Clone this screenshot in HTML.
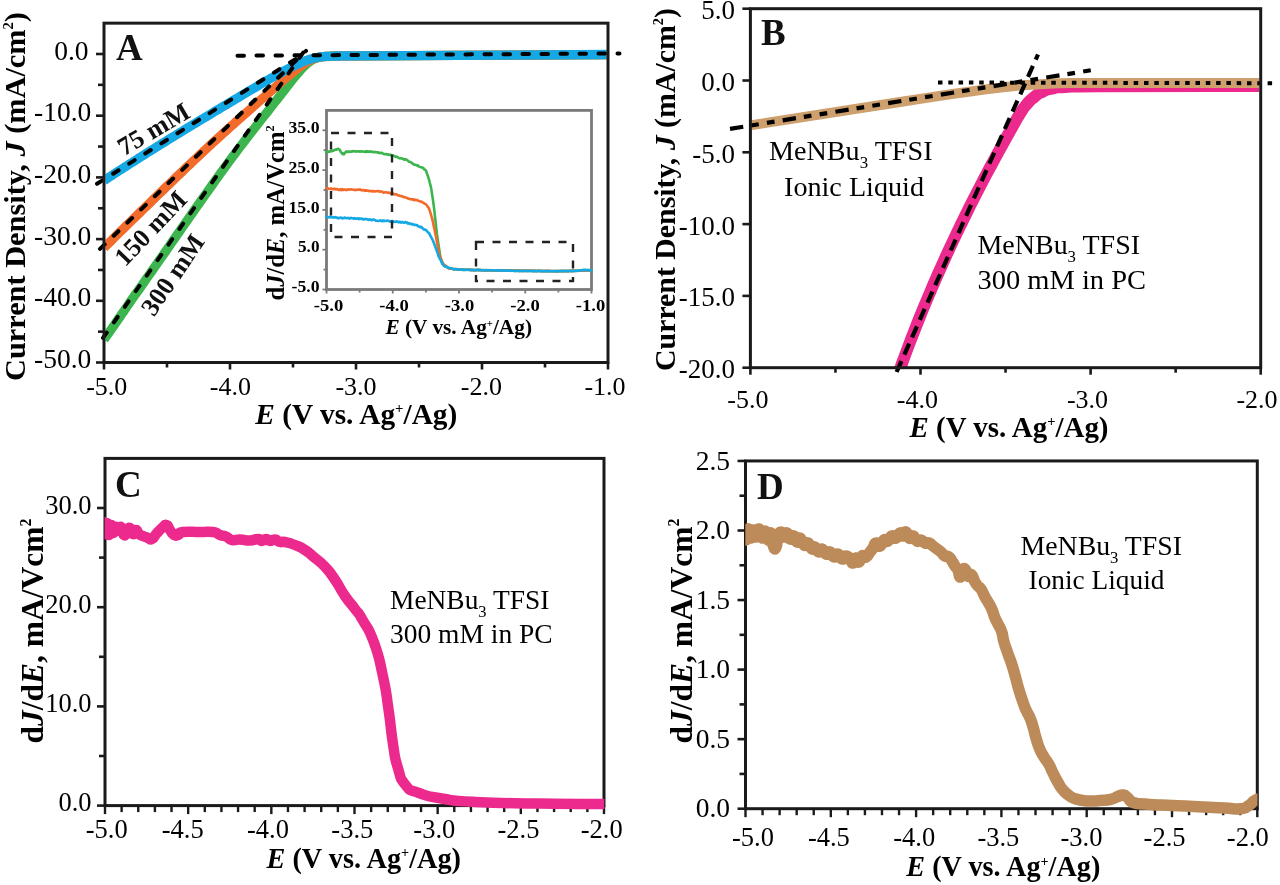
<!DOCTYPE html>
<html><head><meta charset="utf-8"><style>
html,body{margin:0;padding:0;background:#fff;overflow:hidden;}
svg{display:block;font-family:"Liberation Serif", serif;will-change:transform;}
</style></head><body>
<svg width="1280" height="885" viewBox="0 0 1280 885">
<rect width="1280" height="885" fill="#fff"/>
<defs>
<clipPath id="cA"><rect x="105.50" y="23.15" width="501.00" height="339.35"/></clipPath>
<clipPath id="cB"><rect x="751.50" y="8.80" width="507.50" height="359.70"/></clipPath>
<clipPath id="cC"><rect x="104.60" y="458.50" width="499.70" height="361.50"/></clipPath>
<clipPath id="cD"><rect x="745.30" y="461.00" width="512.20" height="364.00"/></clipPath>
</defs>
<g clip-path="url(#cA)">
<path d="M104.0 339.7 L106.5 336.1 L109.0 332.5 L111.6 328.9 L114.1 325.3 L116.6 321.6 L119.1 318.0 L121.6 314.3 L124.2 310.7 L126.7 307.0 L129.2 303.3 L131.7 299.7 L134.2 296.1 L136.8 292.6 L139.3 289.0 L141.8 285.4 L144.3 281.8 L146.8 278.2 L149.4 274.6 L151.9 271.0 L154.4 267.4 L156.9 263.8 L159.4 260.2 L162.0 256.6 L164.5 253.0 L167.0 249.4 L169.5 245.8 L172.0 242.2 L174.6 238.5 L177.1 234.9 L179.6 231.3 L182.1 227.7 L184.6 224.1 L187.2 220.5 L189.7 216.9 L192.2 213.3 L194.7 209.7 L197.2 206.1 L199.8 202.5 L202.3 198.9 L204.8 195.4 L207.3 191.8 L209.9 188.2 L212.4 184.7 L214.9 181.1 L217.4 177.6 L220.0 174.1 L222.5 170.6 L225.1 167.1 L227.6 163.6 L230.2 160.1 L232.8 156.6 L235.3 153.2 L237.9 149.7 L240.5 146.3 L243.2 142.8 L245.8 139.4 L248.4 136.0 L251.0 132.6 L253.7 129.3 L256.3 125.9 L258.9 122.6 L261.5 119.2 L264.1 115.9 L266.7 112.7 L269.3 109.4 L271.8 106.2 L274.3 103.0 L276.8 99.8 L279.3 96.6 L281.8 93.4 L284.2 90.3 L286.6 87.2 L289.1 84.1 L291.5 81.0 L293.9 77.9 L296.3 75.0 L298.8 72.1 L301.2 69.4 L303.6 66.9 L306.1 64.5 L308.5 62.5 L311.0 60.7 L313.5 59.3 L316.0 58.2 L318.5 57.5 L321.0 56.9 L323.5 56.6 L326.1 56.4 L328.6 56.3 L331.1 56.1 L333.6 56.1 L336.1 56.0 L338.6 56.0 L341.2 55.9 L343.7 55.9 L346.2 55.9 L348.7 55.9 L351.2 55.9 L353.8 55.9 L356.3 55.9 L608.0 54.6" fill="none" stroke="#3db54e" stroke-width="9.3" stroke-linejoin="round" stroke-linecap="butt" />
<path d="M104.0 247.7 L106.5 245.2 L109.0 242.8 L111.6 240.3 L114.1 237.8 L116.6 235.3 L119.1 232.8 L121.6 230.4 L124.2 227.9 L126.7 225.4 L129.2 223.0 L131.7 220.5 L134.2 218.1 L136.8 215.6 L139.3 213.1 L141.8 210.7 L144.3 208.2 L146.8 205.8 L149.4 203.3 L151.9 200.9 L154.4 198.4 L156.9 196.0 L159.4 193.5 L162.0 191.1 L164.5 188.6 L167.0 186.2 L169.5 183.8 L172.1 181.3 L174.6 178.9 L177.1 176.4 L179.7 174.0 L182.2 171.6 L184.7 169.2 L187.3 166.7 L189.8 164.3 L192.4 161.9 L194.9 159.5 L197.5 157.1 L200.0 154.7 L202.6 152.3 L205.2 149.9 L207.7 147.5 L210.3 145.1 L212.9 142.7 L215.5 140.3 L218.1 138.0 L220.7 135.6 L223.3 133.2 L225.9 130.9 L228.5 128.6 L231.1 126.2 L233.7 123.9 L236.3 121.6 L238.9 119.3 L241.4 117.0 L244.0 114.7 L246.6 112.4 L249.1 110.2 L251.7 108.0 L254.2 105.7 L256.7 103.5 L259.2 101.3 L261.7 99.1 L264.2 97.0 L266.7 94.8 L269.1 92.6 L271.6 90.5 L274.1 88.3 L276.5 86.2 L279.0 84.1 L281.4 81.9 L283.9 79.8 L286.3 77.8 L288.8 75.7 L291.2 73.6 L293.7 71.6 L296.2 69.6 L298.6 67.7 L301.1 65.9 L303.6 64.1 L306.0 62.5 L308.5 61.1 L311.0 59.9 L313.5 58.8 L316.0 58.0 L318.5 57.4 L321.0 57.0 L323.5 56.7 L326.1 56.5 L328.6 56.3 L331.1 56.2 L333.6 56.1 L336.1 56.0 L338.6 56.0 L341.2 55.9 L343.7 55.9 L346.2 55.9 L348.7 55.9 L351.2 55.9 L353.8 55.9 L356.3 55.9 L608.0 54.6" fill="none" stroke="#f26b2a" stroke-width="9.3" stroke-linejoin="round" stroke-linecap="butt" />
<path d="M104.0 180.5 L106.6 178.8 L109.1 177.2 L111.6 175.6 L114.1 173.9 L116.7 172.3 L119.2 170.7 L121.7 169.1 L124.3 167.4 L126.8 165.8 L129.3 164.2 L131.9 162.6 L134.4 161.0 L137.0 159.4 L139.5 157.7 L142.0 156.1 L144.6 154.5 L147.1 152.9 L149.7 151.3 L152.3 149.7 L154.8 148.1 L157.4 146.5 L159.9 144.9 L162.5 143.3 L165.1 141.7 L167.6 140.1 L170.2 138.5 L172.8 137.0 L175.4 135.4 L177.9 133.8 L180.5 132.2 L183.1 130.7 L185.6 129.1 L188.2 127.5 L190.8 126.0 L193.4 124.4 L195.9 122.9 L198.5 121.3 L201.0 119.8 L203.6 118.3 L206.2 116.7 L208.7 115.2 L211.3 113.7 L213.8 112.1 L216.3 110.6 L218.9 109.1 L221.4 107.6 L223.9 106.1 L226.5 104.6 L229.0 103.1 L231.5 101.6 L234.0 100.0 L236.5 98.5 L239.0 97.1 L241.5 95.6 L244.0 94.1 L246.5 92.6 L249.0 91.1 L251.4 89.6 L253.9 88.2 L256.4 86.7 L258.9 85.2 L261.3 83.8 L263.8 82.3 L266.3 80.9 L268.8 79.5 L271.2 78.1 L273.7 76.7 L276.2 75.3 L278.6 73.9 L281.1 72.5 L283.6 71.2 L286.1 69.9 L288.6 68.6 L291.0 67.3 L293.5 66.1 L296.0 64.9 L298.5 63.7 L301.0 62.6 L303.5 61.5 L306.0 60.5 L308.5 59.7 L311.0 58.9 L313.5 58.2 L316.0 57.7 L318.5 57.2 L321.0 56.9 L323.5 56.6 L326.1 56.4 L328.6 56.3 L331.1 56.2 L333.6 56.1 L336.1 56.0 L338.6 56.0 L341.2 55.9 L343.7 55.9 L346.2 55.9 L348.7 55.9 L351.2 55.9 L353.8 55.9 L356.3 55.9 L608.0 54.5" fill="none" stroke="#14a8e4" stroke-width="9.3" stroke-linejoin="round" stroke-linecap="butt" />
</g>
<line x1="97.00" y1="183.81" x2="305.00" y2="53.19" stroke="#000" stroke-width="4" stroke-dasharray="6.5 12.5" stroke-linecap="round"/>
<line x1="100.00" y1="248.86" x2="306.00" y2="50.90" stroke="#000" stroke-width="4" stroke-dasharray="6.5 12.5" stroke-linecap="round"/>
<line x1="103.00" y1="337.85" x2="309.70" y2="43.30" stroke="#000" stroke-width="4" stroke-dasharray="6.5 12.5" stroke-linecap="round"/>
<line x1="237.50" y1="55.70" x2="619.50" y2="53.50" stroke="#000" stroke-width="4" stroke-dasharray="6.5 12.5" stroke-linecap="round"/>
<text transform="translate(124.00,156.40) rotate(-30.4)" x="0" y="0" font-size="26" font-weight="bold" fill="#111">75 mM</text>
<text transform="translate(125.20,267.50) rotate(-46.4)" x="0" y="0" font-size="26" font-weight="bold" fill="#111">150 mM</text>
<text transform="translate(154.00,317.50) rotate(-55.7)" x="0" y="0" font-size="26" font-weight="bold" fill="#111">300 mM</text>
<text x="116.00" y="59.50" font-size="37" font-weight="bold" fill="#111">A</text>
<rect x="104.00" y="23.15" width="504.00" height="339.35" fill="none" stroke="#1a1a1a" stroke-width="3"/>
<line x1="96.00" y1="54.00" x2="104.00" y2="54.00" stroke="#1a1a1a" stroke-width="2.6" />
<line x1="98.00" y1="84.85" x2="104.00" y2="84.85" stroke="#1a1a1a" stroke-width="2.6" />
<line x1="96.00" y1="115.70" x2="104.00" y2="115.70" stroke="#1a1a1a" stroke-width="2.6" />
<line x1="98.00" y1="146.55" x2="104.00" y2="146.55" stroke="#1a1a1a" stroke-width="2.6" />
<line x1="96.00" y1="177.40" x2="104.00" y2="177.40" stroke="#1a1a1a" stroke-width="2.6" />
<line x1="98.00" y1="208.25" x2="104.00" y2="208.25" stroke="#1a1a1a" stroke-width="2.6" />
<line x1="96.00" y1="239.10" x2="104.00" y2="239.10" stroke="#1a1a1a" stroke-width="2.6" />
<line x1="98.00" y1="269.95" x2="104.00" y2="269.95" stroke="#1a1a1a" stroke-width="2.6" />
<line x1="96.00" y1="300.80" x2="104.00" y2="300.80" stroke="#1a1a1a" stroke-width="2.6" />
<line x1="98.00" y1="331.65" x2="104.00" y2="331.65" stroke="#1a1a1a" stroke-width="2.6" />
<line x1="96.00" y1="362.50" x2="104.00" y2="362.50" stroke="#1a1a1a" stroke-width="2.6" />
<line x1="104.00" y1="362.50" x2="104.00" y2="369.50" stroke="#1a1a1a" stroke-width="2.6" />
<line x1="167.00" y1="362.50" x2="167.00" y2="367.50" stroke="#1a1a1a" stroke-width="2.6" />
<line x1="230.00" y1="362.50" x2="230.00" y2="369.50" stroke="#1a1a1a" stroke-width="2.6" />
<line x1="293.00" y1="362.50" x2="293.00" y2="367.50" stroke="#1a1a1a" stroke-width="2.6" />
<line x1="356.00" y1="362.50" x2="356.00" y2="369.50" stroke="#1a1a1a" stroke-width="2.6" />
<line x1="419.00" y1="362.50" x2="419.00" y2="367.50" stroke="#1a1a1a" stroke-width="2.6" />
<line x1="482.00" y1="362.50" x2="482.00" y2="369.50" stroke="#1a1a1a" stroke-width="2.6" />
<line x1="545.00" y1="362.50" x2="545.00" y2="367.50" stroke="#1a1a1a" stroke-width="2.6" />
<line x1="608.00" y1="362.50" x2="608.00" y2="369.50" stroke="#1a1a1a" stroke-width="2.6" />
<text x="88.50" y="59.50" font-size="27.5" text-anchor="end">0.0</text>
<text x="91.30" y="121.20" font-size="27.5" text-anchor="end">-10.0</text>
<text x="91.30" y="182.90" font-size="27.5" text-anchor="end">-20.0</text>
<text x="91.30" y="244.60" font-size="27.5" text-anchor="end">-30.0</text>
<text x="91.30" y="306.30" font-size="27.5" text-anchor="end">-40.0</text>
<text x="91.30" y="368.00" font-size="27.5" text-anchor="end">-50.0</text>
<text x="106.80" y="395.00" font-size="26" text-anchor="middle">-5.0</text>
<text x="230.40" y="395.00" font-size="26" text-anchor="middle">-4.0</text>
<text x="356.00" y="395.00" font-size="26" text-anchor="middle">-3.0</text>
<text x="481.40" y="395.00" font-size="26" text-anchor="middle">-2.0</text>
<text x="605.00" y="395.00" font-size="26" text-anchor="middle">-1.0</text>
<text x="255.30" y="424.00" font-size="29.5" font-weight="bold" textLength="202.00" lengthAdjust="spacingAndGlyphs"><tspan font-style="italic">E</tspan> (V vs. Ag<tspan dy="-10.6" font-size="14.8">+</tspan><tspan dy="10.6">/Ag)</tspan></text>
<text transform="translate(25.20,381.00) rotate(-90)" x="0" y="0" font-size="30" font-weight="bold" textLength="369.00" lengthAdjust="spacingAndGlyphs">Current Density, <tspan font-style="italic">J</tspan> (mA/cm<tspan dy="-12.0" font-size="14.4">2</tspan><tspan dy="12.0">)</tspan></text>
<rect x="326.50" y="110.40" width="265.00" height="179.10" fill="#fff" stroke="#7a7a7a" stroke-width="2.8"/>
<line x1="322.50" y1="289.50" x2="326.50" y2="289.50" stroke="#7a7a7a" stroke-width="1.8" />
<line x1="323.50" y1="269.60" x2="326.50" y2="269.60" stroke="#7a7a7a" stroke-width="1.8" />
<line x1="322.50" y1="249.70" x2="326.50" y2="249.70" stroke="#7a7a7a" stroke-width="1.8" />
<line x1="323.50" y1="229.80" x2="326.50" y2="229.80" stroke="#7a7a7a" stroke-width="1.8" />
<line x1="322.50" y1="209.90" x2="326.50" y2="209.90" stroke="#7a7a7a" stroke-width="1.8" />
<line x1="323.50" y1="190.00" x2="326.50" y2="190.00" stroke="#7a7a7a" stroke-width="1.8" />
<line x1="322.50" y1="170.10" x2="326.50" y2="170.10" stroke="#7a7a7a" stroke-width="1.8" />
<line x1="323.50" y1="150.20" x2="326.50" y2="150.20" stroke="#7a7a7a" stroke-width="1.8" />
<line x1="322.50" y1="130.30" x2="326.50" y2="130.30" stroke="#7a7a7a" stroke-width="1.8" />
<line x1="326.50" y1="289.50" x2="326.50" y2="293.50" stroke="#7a7a7a" stroke-width="1.8" />
<line x1="359.62" y1="289.50" x2="359.62" y2="292.50" stroke="#7a7a7a" stroke-width="1.8" />
<line x1="392.75" y1="289.50" x2="392.75" y2="293.50" stroke="#7a7a7a" stroke-width="1.8" />
<line x1="425.88" y1="289.50" x2="425.88" y2="292.50" stroke="#7a7a7a" stroke-width="1.8" />
<line x1="459.00" y1="289.50" x2="459.00" y2="293.50" stroke="#7a7a7a" stroke-width="1.8" />
<line x1="492.12" y1="289.50" x2="492.12" y2="292.50" stroke="#7a7a7a" stroke-width="1.8" />
<line x1="525.25" y1="289.50" x2="525.25" y2="293.50" stroke="#7a7a7a" stroke-width="1.8" />
<line x1="558.38" y1="289.50" x2="558.38" y2="292.50" stroke="#7a7a7a" stroke-width="1.8" />
<line x1="591.50" y1="289.50" x2="591.50" y2="293.50" stroke="#7a7a7a" stroke-width="1.8" />
<text x="319.50" y="132.90" font-size="17.5" font-weight="bold" text-anchor="end" textLength="31.00" lengthAdjust="spacingAndGlyphs">35.0</text>
<text x="319.50" y="172.70" font-size="17.5" font-weight="bold" text-anchor="end" textLength="31.00" lengthAdjust="spacingAndGlyphs">25.0</text>
<text x="319.50" y="212.50" font-size="17.5" font-weight="bold" text-anchor="end" textLength="31.00" lengthAdjust="spacingAndGlyphs">15.0</text>
<text x="319.50" y="252.30" font-size="17.5" font-weight="bold" text-anchor="end" textLength="21.50" lengthAdjust="spacingAndGlyphs">5.0</text>
<text x="319.50" y="292.10" font-size="17.5" font-weight="bold" text-anchor="end" textLength="28.00" lengthAdjust="spacingAndGlyphs">-5.0</text>
<text x="328.50" y="311.00" font-size="17" font-weight="bold" text-anchor="middle" textLength="29.50" lengthAdjust="spacingAndGlyphs">-5.0</text>
<text x="394.00" y="311.00" font-size="17" font-weight="bold" text-anchor="middle" textLength="29.50" lengthAdjust="spacingAndGlyphs">-4.0</text>
<text x="459.50" y="311.00" font-size="17" font-weight="bold" text-anchor="middle" textLength="29.50" lengthAdjust="spacingAndGlyphs">-3.0</text>
<text x="525.00" y="311.00" font-size="17" font-weight="bold" text-anchor="middle" textLength="29.50" lengthAdjust="spacingAndGlyphs">-2.0</text>
<text x="590.50" y="311.00" font-size="17" font-weight="bold" text-anchor="middle" textLength="29.50" lengthAdjust="spacingAndGlyphs">-1.0</text>
<text x="385.50" y="334.40" font-size="20" font-weight="bold" textLength="146.50" lengthAdjust="spacingAndGlyphs"><tspan font-style="italic">E</tspan> (V vs. Ag<tspan dy="-7.2" font-size="10.0">+</tspan><tspan dy="7.2">/Ag)</tspan></text>
<text transform="translate(284.00,300.50) rotate(-90)" x="0" y="0" font-size="24.5" font-weight="bold" textLength="175.00" lengthAdjust="spacingAndGlyphs">d<tspan font-style="italic">J</tspan>/d<tspan font-style="italic">E</tspan>, mA/Vcm<tspan dy="-9.8" font-size="12.2">2</tspan></text>
<path d="M326.5 152.0 L327.3 151.7 L328.1 152.1 L328.9 151.3 L329.7 151.7 L330.5 151.3 L331.3 150.9 L332.1 151.2 L332.9 150.6 L333.7 150.7 L334.4 149.9 L335.2 149.6 L336.0 149.5 L336.8 149.7 L337.6 148.9 L338.4 148.9 L339.2 149.2 L340.0 150.2 L340.8 151.9 L341.6 152.8 L342.4 153.9 L343.2 153.4 L344.0 154.3 L344.8 153.0 L345.6 152.2 L346.4 151.4 L347.2 151.6 L348.0 152.1 L348.8 151.4 L349.6 151.8 L350.3 151.8 L351.1 151.5 L351.9 151.7 L352.7 151.2 L353.5 151.1 L354.3 151.3 L355.1 151.7 L355.9 151.4 L356.7 151.3 L357.5 151.5 L358.3 151.4 L359.1 151.2 L359.9 151.7 L360.7 151.6 L361.5 151.2 L362.3 151.5 L363.1 151.5 L363.9 151.9 L364.7 151.8 L365.5 151.4 L366.2 152.1 L367.0 151.2 L367.8 151.6 L368.6 151.9 L369.4 151.3 L370.2 151.7 L371.0 151.3 L371.8 151.9 L372.6 152.0 L373.4 151.9 L374.2 152.3 L375.0 151.9 L375.8 152.3 L376.6 152.3 L377.4 152.4 L378.2 152.4 L379.0 152.9 L379.8 153.1 L380.6 152.8 L381.4 153.2 L382.1 152.8 L382.9 153.6 L383.7 153.8 L384.5 154.3 L385.3 154.3 L386.1 154.0 L386.9 154.3 L387.7 154.7 L388.5 154.3 L389.3 154.9 L390.1 154.8 L390.9 154.9 L391.7 155.1 L392.5 156.0 L393.3 155.6 L394.1 155.9 L394.9 156.3 L395.7 157.0 L396.5 156.5 L397.3 157.1 L398.0 157.4 L398.8 158.0 L399.6 158.2 L400.4 158.4 L401.2 158.1 L402.0 158.5 L402.8 158.7 L403.6 159.4 L404.4 159.7 L405.2 159.2 L406.0 159.4 L406.8 160.0 L407.6 160.4 L408.4 161.2 L409.2 161.8 L410.0 161.9 L410.8 162.1 L411.6 163.0 L412.4 163.4 L413.2 164.0 L413.9 164.7 L414.7 164.7 L415.5 164.8 L416.3 165.2 L417.1 165.6 L417.9 165.3 L418.7 166.5 L419.5 166.7 L420.3 167.1 L421.1 167.4 L421.9 167.3 L422.7 167.7 L423.5 168.2 L424.3 169.5 L425.1 169.7 L425.9 170.5 L426.7 172.9 L427.5 175.0 L428.3 177.3 L429.1 179.8 L429.8 182.8 L430.6 185.8 L431.4 189.6 L432.2 195.1 L433.0 200.3 L433.8 206.1 L434.6 213.1 L435.4 220.1 L436.2 227.3 L437.0 234.5 L437.8 240.1 L438.6 245.2 L439.4 250.8 L440.2 256.2 L441.0 258.9 L441.8 260.8 L442.6 262.5 L443.4 264.5 L444.2 265.8 L445.0 266.1 L445.7 266.8 L446.5 266.9 L447.3 267.3 L448.1 268.1 L448.9 268.4 L449.7 268.3 L450.5 268.6 L451.3 268.4 L452.1 268.8 L452.9 269.1 L453.7 269.1 L454.5 269.2 L455.3 269.0 L456.1 269.2 L456.9 269.2 L457.7 269.6 L458.5 269.6 L459.3 269.7 L460.1 269.5 L460.9 269.5 L461.6 269.8 L462.4 269.9 L463.2 269.9 L464.0 269.9 L464.8 269.9 L465.6 269.9 L466.4 269.6 L467.2 269.8 L468.0 269.7 L468.8 269.6 L469.6 269.6 L470.4 269.8 L471.2 269.8 L472.0 270.0 L472.8 270.2 L473.6 269.9 L474.4 270.2 L475.2 270.2 L476.0 270.2 L476.8 270.0 L477.5 269.9 L478.3 269.9 L479.1 269.9 L479.9 270.0 L480.7 270.2 L481.5 270.3 L482.3 270.3 L483.1 270.2 L483.9 270.3 L484.7 270.4 L485.5 270.0 L486.3 270.3 L487.1 270.5 L487.9 270.4 L488.7 270.4 L489.5 270.3 L490.3 270.2 L491.1 270.5 L491.9 270.3 L492.7 270.6 L493.4 270.6 L494.2 270.4 L495.0 270.4 L495.8 270.7 L496.6 270.6 L497.4 270.3 L498.2 270.3 L499.0 270.3 L499.8 270.7 L500.6 270.7 L501.4 270.3 L502.2 270.7 L503.0 270.8 L503.8 270.6 L504.6 270.5 L505.4 270.6 L506.2 270.4 L507.0 270.3 L507.8 270.8 L508.6 270.7 L509.3 270.6 L510.1 270.8 L510.9 270.6 L511.7 270.8 L512.5 270.8 L513.3 270.5 L514.1 270.5 L514.9 270.6 L515.7 270.5 L516.5 270.7 L517.3 270.6 L518.1 270.7 L518.9 270.5 L519.7 270.9 L520.5 270.7 L521.3 270.7 L522.1 270.8 L522.9 271.0 L523.7 270.7 L524.5 271.0 L525.2 270.8 L526.0 270.8 L526.8 270.8 L527.6 270.6 L528.4 270.8 L529.2 270.7 L530.0 270.6 L530.8 271.0 L531.6 270.7 L532.4 270.9 L533.2 271.0 L534.0 270.9 L534.8 270.8 L535.6 270.9 L536.4 271.0 L537.2 271.1 L538.0 270.7 L538.8 271.0 L539.6 270.8 L540.4 270.9 L541.1 271.1 L541.9 271.0 L542.7 271.0 L543.5 271.1 L544.3 271.2 L545.1 271.0 L545.9 271.1 L546.7 271.1 L547.5 271.1 L548.3 271.2 L549.1 271.1 L549.9 271.1 L550.7 271.1 L551.5 271.3 L552.3 271.2 L553.1 271.3 L553.9 271.4 L554.7 271.0 L555.5 271.2 L556.3 271.4 L557.0 271.3 L557.8 271.0 L558.6 271.0 L559.4 271.1 L560.2 270.9 L561.0 271.0 L561.8 270.9 L562.6 271.2 L563.4 271.2 L564.2 271.3 L565.0 270.9 L565.8 271.2 L566.6 271.1 L567.4 270.8 L568.2 271.2 L569.0 271.2 L569.8 270.8 L570.6 271.2 L571.4 270.9 L572.2 270.9 L572.9 271.1 L573.7 271.1 L574.5 270.7 L575.3 270.8 L576.1 270.8 L576.9 270.7 L577.7 270.7 L578.5 270.7 L579.3 270.8 L580.1 270.3 L580.9 270.5 L581.7 270.4 L582.5 270.0 L583.3 270.1 L584.1 270.2 L584.9 270.0 L585.7 269.8 L586.5 270.3 L587.3 270.3 L588.1 270.4 L588.8 270.0 L589.6 270.2 L590.4 270.1 L591.2 270.5 L591.5 270.4" fill="none" stroke="#3db54e" stroke-width="2.6" stroke-linejoin="round" stroke-linecap="round" />
<path d="M326.5 188.2 L327.3 188.1 L328.1 188.5 L328.9 189.0 L329.7 189.0 L330.5 188.5 L331.3 188.5 L332.1 189.3 L332.9 189.1 L333.7 189.3 L334.4 188.7 L335.2 188.8 L336.0 189.5 L336.8 189.3 L337.6 189.0 L338.4 189.9 L339.2 189.7 L340.0 189.9 L340.8 189.2 L341.6 190.0 L342.4 189.2 L343.2 190.0 L344.0 189.6 L344.8 189.5 L345.6 189.8 L346.4 190.2 L347.2 189.5 L348.0 189.4 L348.8 189.8 L349.6 189.5 L350.3 189.4 L351.1 189.5 L351.9 189.4 L352.7 189.6 L353.5 189.7 L354.3 189.7 L355.1 190.2 L355.9 189.7 L356.7 189.9 L357.5 189.6 L358.3 189.8 L359.1 189.5 L359.9 189.8 L360.7 189.6 L361.5 190.4 L362.3 190.3 L363.1 190.0 L363.9 190.3 L364.7 190.8 L365.5 190.1 L366.2 190.8 L367.0 190.5 L367.8 190.7 L368.6 191.1 L369.4 190.7 L370.2 190.9 L371.0 191.1 L371.8 191.5 L372.6 190.9 L373.4 191.4 L374.2 191.4 L375.0 191.4 L375.8 191.2 L376.6 191.2 L377.4 191.0 L378.2 191.1 L379.0 191.1 L379.8 191.9 L380.6 191.5 L381.4 191.5 L382.1 191.6 L382.9 192.5 L383.7 192.6 L384.5 192.5 L385.3 192.2 L386.1 192.3 L386.9 192.5 L387.7 192.8 L388.5 192.6 L389.3 193.0 L390.1 192.9 L390.9 193.8 L391.7 193.9 L392.5 193.6 L393.3 193.5 L394.1 194.5 L394.9 194.1 L395.7 194.4 L396.5 194.3 L397.3 195.0 L398.0 195.3 L398.8 195.6 L399.6 195.6 L400.4 196.1 L401.2 195.9 L402.0 196.4 L402.8 196.5 L403.6 197.1 L404.4 197.0 L405.2 197.2 L406.0 197.8 L406.8 197.9 L407.6 198.4 L408.4 198.5 L409.2 198.9 L410.0 199.0 L410.8 199.2 L411.6 199.5 L412.4 199.2 L413.2 199.3 L413.9 200.1 L414.7 199.4 L415.5 200.2 L416.3 200.3 L417.1 199.8 L417.9 200.8 L418.7 201.0 L419.5 201.0 L420.3 201.5 L421.1 201.9 L421.9 201.7 L422.7 202.4 L423.5 202.8 L424.3 203.5 L425.1 203.9 L425.9 204.3 L426.7 205.1 L427.5 206.4 L428.3 207.5 L429.1 208.6 L429.8 210.8 L430.6 213.4 L431.4 216.1 L432.2 218.9 L433.0 222.2 L433.8 226.4 L434.6 230.1 L435.4 233.9 L436.2 238.0 L437.0 242.3 L437.8 246.5 L438.6 250.6 L439.4 254.6 L440.2 257.0 L441.0 259.3 L441.8 261.7 L442.6 263.8 L443.4 264.1 L444.2 265.0 L445.0 265.3 L445.7 265.8 L446.5 266.5 L447.3 267.3 L448.1 267.6 L448.9 268.4 L449.7 268.7 L450.5 268.6 L451.3 268.6 L452.1 268.8 L452.9 269.0 L453.7 269.1 L454.5 269.1 L455.3 269.2 L456.1 269.0 L456.9 269.2 L457.7 269.3 L458.5 269.7 L459.3 269.5 L460.1 269.7 L460.9 269.4 L461.6 269.4 L462.4 269.6 L463.2 269.8 L464.0 269.8 L464.8 269.8 L465.6 269.7 L466.4 269.8 L467.2 269.8 L468.0 269.8 L468.8 269.6 L469.6 270.1 L470.4 269.7 L471.2 270.1 L472.0 270.1 L472.8 269.7 L473.6 269.9 L474.4 270.1 L475.2 270.2 L476.0 270.0 L476.8 269.9 L477.5 269.9 L478.3 270.3 L479.1 269.9 L479.9 270.1 L480.7 269.9 L481.5 270.2 L482.3 270.4 L483.1 270.0 L483.9 270.4 L484.7 270.2 L485.5 270.4 L486.3 270.4 L487.1 270.1 L487.9 270.5 L488.7 270.3 L489.5 270.1 L490.3 270.1 L491.1 270.4 L491.9 270.4 L492.7 270.3 L493.4 270.2 L494.2 270.3 L495.0 270.3 L495.8 270.6 L496.6 270.2 L497.4 270.6 L498.2 270.6 L499.0 270.3 L499.8 270.7 L500.6 270.6 L501.4 270.7 L502.2 270.4 L503.0 270.5 L503.8 270.5 L504.6 270.8 L505.4 270.6 L506.2 270.5 L507.0 270.5 L507.8 270.5 L508.6 270.4 L509.3 270.4 L510.1 270.8 L510.9 270.5 L511.7 270.8 L512.5 270.5 L513.3 270.5 L514.1 270.7 L514.9 270.5 L515.7 270.6 L516.5 270.9 L517.3 270.9 L518.1 270.9 L518.9 270.8 L519.7 270.9 L520.5 271.0 L521.3 270.8 L522.1 270.9 L522.9 270.5 L523.7 270.9 L524.5 270.8 L525.2 270.9 L526.0 270.9 L526.8 270.7 L527.6 270.6 L528.4 271.0 L529.2 270.7 L530.0 270.8 L530.8 270.8 L531.6 270.8 L532.4 271.0 L533.2 271.1 L534.0 270.8 L534.8 271.0 L535.6 270.8 L536.4 271.0 L537.2 270.9 L538.0 270.8 L538.8 270.8 L539.6 270.8 L540.4 271.2 L541.1 271.0 L541.9 270.9 L542.7 271.2 L543.5 271.3 L544.3 271.0 L545.1 270.9 L545.9 270.9 L546.7 270.8 L547.5 271.0 L548.3 270.9 L549.1 271.0 L549.9 271.0 L550.7 271.1 L551.5 271.3 L552.3 271.2 L553.1 271.1 L553.9 271.1 L554.7 271.2 L555.5 271.1 L556.3 271.1 L557.0 271.0 L557.8 271.1 L558.6 271.4 L559.4 271.0 L560.2 271.1 L561.0 271.2 L561.8 271.3 L562.6 270.9 L563.4 271.0 L564.2 270.9 L565.0 271.0 L565.8 271.0 L566.6 271.2 L567.4 271.1 L568.2 271.1 L569.0 270.7 L569.8 270.7 L570.6 271.0 L571.4 271.1 L572.2 270.8 L572.9 270.9 L573.7 270.6 L574.5 270.7 L575.3 271.0 L576.1 270.9 L576.9 270.9 L577.7 271.0 L578.5 270.6 L579.3 270.5 L580.1 270.5 L580.9 270.7 L581.7 270.7 L582.5 270.8 L583.3 270.7 L584.1 270.6 L584.9 270.7 L585.7 270.5 L586.5 270.5 L587.3 270.3 L588.1 270.6 L588.8 270.3 L589.6 270.7 L590.4 270.5 L591.2 270.3 L591.5 270.4" fill="none" stroke="#f26b2a" stroke-width="2.6" stroke-linejoin="round" stroke-linecap="round" />
<path d="M326.5 216.7 L327.3 216.9 L328.1 217.3 L328.9 217.4 L329.7 216.9 L330.5 216.9 L331.3 217.4 L332.1 217.5 L332.9 217.3 L333.7 217.2 L334.4 217.6 L335.2 217.1 L336.0 217.4 L336.8 217.6 L337.6 218.2 L338.4 217.9 L339.2 218.2 L340.0 217.8 L340.8 217.6 L341.6 217.7 L342.4 218.4 L343.2 218.2 L344.0 217.8 L344.8 217.6 L345.6 218.1 L346.4 218.3 L347.2 218.1 L348.0 217.9 L348.8 218.4 L349.6 218.7 L350.3 218.0 L351.1 217.9 L351.9 218.2 L352.7 218.3 L353.5 218.6 L354.3 218.1 L355.1 218.8 L355.9 218.7 L356.7 218.5 L357.5 218.3 L358.3 219.1 L359.1 218.4 L359.9 219.0 L360.7 218.5 L361.5 218.6 L362.3 219.2 L363.1 218.8 L363.9 219.5 L364.7 219.2 L365.5 218.9 L366.2 219.0 L367.0 219.3 L367.8 219.6 L368.6 220.0 L369.4 219.3 L370.2 219.6 L371.0 219.5 L371.8 220.4 L372.6 219.6 L373.4 219.6 L374.2 219.7 L375.0 220.1 L375.8 220.7 L376.6 220.7 L377.4 220.7 L378.2 221.0 L379.0 221.0 L379.8 220.5 L380.6 220.4 L381.4 221.2 L382.1 221.1 L382.9 220.4 L383.7 221.1 L384.5 220.8 L385.3 220.9 L386.1 220.9 L386.9 220.8 L387.7 220.6 L388.5 221.0 L389.3 221.1 L390.1 221.7 L390.9 221.0 L391.7 221.8 L392.5 221.1 L393.3 221.3 L394.1 221.9 L394.9 222.0 L395.7 221.6 L396.5 221.3 L397.3 221.8 L398.0 221.8 L398.8 222.4 L399.6 221.8 L400.4 222.0 L401.2 222.6 L402.0 221.8 L402.8 222.3 L403.6 222.7 L404.4 222.8 L405.2 222.1 L406.0 222.2 L406.8 222.4 L407.6 223.4 L408.4 223.0 L409.2 223.6 L410.0 224.0 L410.8 223.6 L411.6 223.7 L412.4 224.6 L413.2 224.5 L413.9 224.4 L414.7 225.1 L415.5 224.9 L416.3 225.1 L417.1 225.1 L417.9 226.1 L418.7 226.5 L419.5 226.5 L420.3 227.3 L421.1 226.9 L421.9 227.5 L422.7 228.3 L423.5 229.2 L424.3 229.7 L425.1 229.6 L425.9 229.9 L426.7 230.9 L427.5 231.7 L428.3 232.7 L429.1 233.1 L429.8 234.7 L430.6 236.1 L431.4 237.6 L432.2 239.0 L433.0 240.8 L433.8 242.8 L434.6 244.9 L435.4 247.0 L436.2 249.4 L437.0 251.3 L437.8 253.7 L438.6 256.3 L439.4 258.0 L440.2 259.5 L441.0 261.0 L441.8 262.8 L442.6 264.1 L443.4 265.0 L444.2 265.7 L445.0 266.4 L445.7 266.7 L446.5 266.8 L447.3 267.1 L448.1 267.5 L448.9 267.9 L449.7 268.0 L450.5 268.1 L451.3 268.4 L452.1 268.8 L452.9 269.0 L453.7 269.1 L454.5 269.2 L455.3 269.2 L456.1 269.1 L456.9 269.5 L457.7 269.3 L458.5 269.6 L459.3 269.5 L460.1 269.7 L460.9 269.5 L461.6 269.5 L462.4 269.6 L463.2 269.5 L464.0 269.9 L464.8 269.8 L465.6 269.7 L466.4 269.7 L467.2 270.0 L468.0 269.8 L468.8 269.7 L469.6 270.0 L470.4 270.0 L471.2 270.1 L472.0 269.7 L472.8 269.9 L473.6 270.1 L474.4 270.1 L475.2 270.2 L476.0 269.8 L476.8 269.9 L477.5 269.9 L478.3 269.9 L479.1 270.3 L479.9 270.1 L480.7 270.3 L481.5 270.1 L482.3 270.3 L483.1 270.2 L483.9 270.1 L484.7 270.4 L485.5 270.5 L486.3 270.1 L487.1 270.3 L487.9 270.4 L488.7 270.2 L489.5 270.3 L490.3 270.2 L491.1 270.2 L491.9 270.3 L492.7 270.5 L493.4 270.5 L494.2 270.3 L495.0 270.2 L495.8 270.4 L496.6 270.6 L497.4 270.3 L498.2 270.4 L499.0 270.4 L499.8 270.7 L500.6 270.6 L501.4 270.3 L502.2 270.4 L503.0 270.5 L503.8 270.6 L504.6 270.7 L505.4 270.4 L506.2 270.5 L507.0 270.8 L507.8 270.6 L508.6 270.6 L509.3 270.6 L510.1 270.9 L510.9 270.6 L511.7 270.8 L512.5 270.7 L513.3 270.7 L514.1 271.0 L514.9 271.1 L515.7 270.8 L516.5 270.7 L517.3 271.0 L518.1 270.7 L518.9 270.6 L519.7 271.1 L520.5 270.9 L521.3 271.1 L522.1 270.9 L522.9 271.1 L523.7 270.9 L524.5 270.8 L525.2 270.8 L526.0 271.0 L526.8 271.1 L527.6 271.2 L528.4 270.8 L529.2 271.1 L530.0 271.0 L530.8 271.0 L531.6 270.9 L532.4 270.9 L533.2 271.1 L534.0 271.3 L534.8 270.9 L535.6 271.1 L536.4 271.2 L537.2 271.3 L538.0 270.9 L538.8 270.9 L539.6 271.3 L540.4 271.3 L541.1 271.1 L541.9 270.9 L542.7 271.3 L543.5 271.0 L544.3 271.3 L545.1 271.2 L545.9 271.3 L546.7 271.0 L547.5 271.3 L548.3 271.0 L549.1 271.1 L549.9 271.3 L550.7 271.3 L551.5 271.0 L552.3 271.0 L553.1 271.1 L553.9 271.2 L554.7 271.1 L555.5 271.0 L556.3 271.1 L557.0 271.3 L557.8 271.4 L558.6 271.0 L559.4 271.2 L560.2 271.3 L561.0 270.9 L561.8 271.3 L562.6 270.9 L563.4 271.1 L564.2 271.1 L565.0 271.1 L565.8 270.9 L566.6 271.0 L567.4 271.1 L568.2 271.0 L569.0 271.1 L569.8 270.9 L570.6 270.9 L571.4 270.7 L572.2 271.0 L572.9 270.9 L573.7 270.8 L574.5 271.0 L575.3 271.0 L576.1 270.8 L576.9 270.7 L577.7 270.8 L578.5 270.6 L579.3 270.5 L580.1 270.5 L580.9 270.3 L581.7 270.4 L582.5 270.3 L583.3 270.0 L584.1 270.2 L584.9 269.8 L585.7 270.2 L586.5 270.2 L587.3 270.1 L588.1 270.0 L588.8 270.2 L589.6 270.2 L590.4 270.6 L591.2 270.2 L591.5 270.4" fill="none" stroke="#14a8e4" stroke-width="2.6" stroke-linejoin="round" stroke-linecap="round" />
<rect x="331" y="133" width="61" height="104" fill="none" stroke="#222" stroke-width="2.4" stroke-dasharray="8 8.5"/>
<rect x="476" y="242" width="97" height="39" fill="none" stroke="#222" stroke-width="2.4" stroke-dasharray="8 8.5"/>
<g clip-path="url(#cB)">
<path d="M896.8 378.0 C898.2 374.0 898.2 374.0 901.1 366.0 C904.0 358.0 902.5 362.0 905.5 354.0 C908.5 346.0 907.0 350.0 910.0 342.0 C913.1 334.0 911.5 338.0 914.7 330.0 C917.8 322.0 916.2 326.0 919.4 318.0 C922.7 310.0 921.0 314.0 924.3 306.0 C927.7 298.0 926.0 302.0 929.4 294.0 C932.8 286.0 931.0 290.0 934.5 282.0 C938.0 274.0 936.2 278.0 939.8 270.0 C943.4 262.0 941.6 266.0 945.2 258.0 C948.8 250.0 947.0 254.0 950.7 246.0 C954.5 238.0 952.6 242.0 956.4 234.0 C960.2 226.0 958.3 230.0 962.2 222.0 C966.1 214.0 964.1 218.0 968.1 210.0 C972.1 202.0 970.0 206.0 974.1 198.0 C978.2 190.0 976.1 194.0 980.3 186.0 C984.4 178.0 982.3 182.0 986.5 174.0 C990.8 166.0 988.6 170.0 993.0 162.0 C997.3 154.0 995.1 158.0 999.5 150.0 C1003.9 142.0 1001.7 146.0 1006.1 138.0 C1010.6 130.0 1008.4 134.0 1012.9 126.0 C1017.5 118.0 1015.2 121.3 1019.8 114.0 C1024.5 106.7 1021.9 109.8 1027.0 104.0 C1032.1 98.2 1029.7 100.7 1035.0 96.5 C1040.3 92.3 1037.3 94.2 1043.0 91.5 C1048.7 88.8 1044.7 90.0 1052.0 88.5 C1059.3 87.0 1049.0 87.7 1065.0 87.0 C1081.0 86.3 1035.0 86.6 1100.0 86.3 C1165.0 86.0 1206.7 86.1 1260.0 86.0" fill="none" stroke="#ec2a8e" stroke-width="12" stroke-linejoin="round" stroke-linecap="butt" />
<path d="M750 125.4 L900 102 C950 94 990 88 1020 85.5 C1040 84 1050 83.2 1070 83 L1260 83" fill="none" stroke="#cda06e" stroke-width="10" stroke-linejoin="round" stroke-linecap="butt" />
</g>
<line x1="730.00" y1="128.90" x2="1096.00" y2="69.40" stroke="#000" stroke-width="4.2" stroke-dasharray="13.4 8 7.7 8.3 7.7 8.3"/>
<line x1="896.60" y1="372.00" x2="1038.00" y2="54.50" stroke="#000" stroke-width="4.2" stroke-dasharray="12 7"/>
<line x1="938.00" y1="82.50" x2="1275.00" y2="83.20" stroke="#000" stroke-width="4" stroke-dasharray="4.5 5.8"/>
<rect x="750.40" y="8.70" width="510.30" height="359.00" fill="none" stroke="#1a1a1a" stroke-width="3"/>
<line x1="742.40" y1="8.70" x2="750.40" y2="8.70" stroke="#1a1a1a" stroke-width="2.6" />
<line x1="742.40" y1="80.50" x2="750.40" y2="80.50" stroke="#1a1a1a" stroke-width="2.6" />
<line x1="742.40" y1="152.30" x2="750.40" y2="152.30" stroke="#1a1a1a" stroke-width="2.6" />
<line x1="742.40" y1="224.10" x2="750.40" y2="224.10" stroke="#1a1a1a" stroke-width="2.6" />
<line x1="742.40" y1="295.90" x2="750.40" y2="295.90" stroke="#1a1a1a" stroke-width="2.6" />
<line x1="742.40" y1="367.70" x2="750.40" y2="367.70" stroke="#1a1a1a" stroke-width="2.6" />
<line x1="750.40" y1="367.70" x2="750.40" y2="374.70" stroke="#1a1a1a" stroke-width="2.6" />
<line x1="835.45" y1="367.70" x2="835.45" y2="372.70" stroke="#1a1a1a" stroke-width="2.6" />
<line x1="920.50" y1="367.70" x2="920.50" y2="374.70" stroke="#1a1a1a" stroke-width="2.6" />
<line x1="1005.55" y1="367.70" x2="1005.55" y2="372.70" stroke="#1a1a1a" stroke-width="2.6" />
<line x1="1090.60" y1="367.70" x2="1090.60" y2="374.70" stroke="#1a1a1a" stroke-width="2.6" />
<line x1="1175.65" y1="367.70" x2="1175.65" y2="372.70" stroke="#1a1a1a" stroke-width="2.6" />
<line x1="1260.70" y1="367.70" x2="1260.70" y2="374.70" stroke="#1a1a1a" stroke-width="2.6" />
<text x="761.00" y="45.00" font-size="37" font-weight="bold" fill="#111">B</text>
<text x="735.00" y="19.20" font-size="27" text-anchor="end">5.0</text>
<text x="735.00" y="91.00" font-size="27" text-anchor="end">0.0</text>
<text x="735.00" y="162.80" font-size="27" text-anchor="end">-5.0</text>
<text x="735.00" y="234.60" font-size="27" text-anchor="end">-10.0</text>
<text x="735.00" y="306.40" font-size="27" text-anchor="end">-15.0</text>
<text x="735.00" y="378.20" font-size="27" text-anchor="end">-20.0</text>
<text x="747.90" y="407.50" font-size="26" text-anchor="middle">-5.0</text>
<text x="917.40" y="407.50" font-size="26" text-anchor="middle">-4.0</text>
<text x="1087.50" y="407.50" font-size="26" text-anchor="middle">-3.0</text>
<text x="1257.00" y="407.50" font-size="26" text-anchor="middle">-2.0</text>
<text x="909.50" y="436.70" font-size="29.5" font-weight="bold" textLength="199.00" lengthAdjust="spacingAndGlyphs"><tspan font-style="italic">E</tspan> (V vs. Ag<tspan dy="-10.6" font-size="14.8">+</tspan><tspan dy="10.6">/Ag)</tspan></text>
<text transform="translate(675.00,371.00) rotate(-90)" x="0" y="0" font-size="29.7" font-weight="bold" textLength="363.00" lengthAdjust="spacingAndGlyphs">Current Density, <tspan font-style="italic">J</tspan> (mA/cm<tspan dy="-11.9" font-size="14.3">2</tspan><tspan dy="11.9">)</tspan></text>
<text x="769.00" y="160.00" font-size="27" textLength="163.50" lengthAdjust="spacingAndGlyphs">MeNBu<tspan dy="8.1" font-size="16.2">3</tspan><tspan dy="-8.1"> TFSI</tspan></text>
<text x="784.00" y="196.00" font-size="27" textLength="140.00" lengthAdjust="spacingAndGlyphs">Ionic Liquid</text>
<text x="977.50" y="254.00" font-size="27" textLength="162.50" lengthAdjust="spacingAndGlyphs">MeNBu<tspan dy="8.1" font-size="16.2">3</tspan><tspan dy="-8.1"> TFSI</tspan></text>
<text x="977.50" y="289.00" font-size="27" textLength="168.50" lengthAdjust="spacingAndGlyphs">300 mM in PC</text>
<rect x="105.00" y="458.40" width="498.99" height="347.20" fill="none" stroke="#1a1a1a" stroke-width="3"/>
<line x1="97.00" y1="805.60" x2="105.00" y2="805.60" stroke="#1a1a1a" stroke-width="2.6" />
<line x1="99.00" y1="756.00" x2="105.00" y2="756.00" stroke="#1a1a1a" stroke-width="2.6" />
<line x1="97.00" y1="706.40" x2="105.00" y2="706.40" stroke="#1a1a1a" stroke-width="2.6" />
<line x1="99.00" y1="656.80" x2="105.00" y2="656.80" stroke="#1a1a1a" stroke-width="2.6" />
<line x1="97.00" y1="607.20" x2="105.00" y2="607.20" stroke="#1a1a1a" stroke-width="2.6" />
<line x1="99.00" y1="557.60" x2="105.00" y2="557.60" stroke="#1a1a1a" stroke-width="2.6" />
<line x1="97.00" y1="508.00" x2="105.00" y2="508.00" stroke="#1a1a1a" stroke-width="2.6" />
<line x1="105.00" y1="805.60" x2="105.00" y2="814.10" stroke="#1a1a1a" stroke-width="2.4" />
<line x1="121.63" y1="805.60" x2="121.63" y2="812.10" stroke="#1a1a1a" stroke-width="2.4" />
<line x1="138.27" y1="805.60" x2="138.27" y2="812.10" stroke="#1a1a1a" stroke-width="2.4" />
<line x1="154.90" y1="805.60" x2="154.90" y2="812.10" stroke="#1a1a1a" stroke-width="2.4" />
<line x1="171.53" y1="805.60" x2="171.53" y2="812.10" stroke="#1a1a1a" stroke-width="2.4" />
<line x1="188.17" y1="805.60" x2="188.17" y2="814.10" stroke="#1a1a1a" stroke-width="2.4" />
<line x1="204.80" y1="805.60" x2="204.80" y2="812.10" stroke="#1a1a1a" stroke-width="2.4" />
<line x1="221.43" y1="805.60" x2="221.43" y2="812.10" stroke="#1a1a1a" stroke-width="2.4" />
<line x1="238.06" y1="805.60" x2="238.06" y2="812.10" stroke="#1a1a1a" stroke-width="2.4" />
<line x1="254.70" y1="805.60" x2="254.70" y2="812.10" stroke="#1a1a1a" stroke-width="2.4" />
<line x1="271.33" y1="805.60" x2="271.33" y2="814.10" stroke="#1a1a1a" stroke-width="2.4" />
<line x1="287.96" y1="805.60" x2="287.96" y2="812.10" stroke="#1a1a1a" stroke-width="2.4" />
<line x1="304.60" y1="805.60" x2="304.60" y2="812.10" stroke="#1a1a1a" stroke-width="2.4" />
<line x1="321.23" y1="805.60" x2="321.23" y2="812.10" stroke="#1a1a1a" stroke-width="2.4" />
<line x1="337.86" y1="805.60" x2="337.86" y2="812.10" stroke="#1a1a1a" stroke-width="2.4" />
<line x1="354.50" y1="805.60" x2="354.50" y2="814.10" stroke="#1a1a1a" stroke-width="2.4" />
<line x1="371.13" y1="805.60" x2="371.13" y2="812.10" stroke="#1a1a1a" stroke-width="2.4" />
<line x1="387.76" y1="805.60" x2="387.76" y2="812.10" stroke="#1a1a1a" stroke-width="2.4" />
<line x1="404.39" y1="805.60" x2="404.39" y2="812.10" stroke="#1a1a1a" stroke-width="2.4" />
<line x1="421.03" y1="805.60" x2="421.03" y2="812.10" stroke="#1a1a1a" stroke-width="2.4" />
<line x1="437.66" y1="805.60" x2="437.66" y2="814.10" stroke="#1a1a1a" stroke-width="2.4" />
<line x1="454.29" y1="805.60" x2="454.29" y2="812.10" stroke="#1a1a1a" stroke-width="2.4" />
<line x1="470.93" y1="805.60" x2="470.93" y2="812.10" stroke="#1a1a1a" stroke-width="2.4" />
<line x1="487.56" y1="805.60" x2="487.56" y2="812.10" stroke="#1a1a1a" stroke-width="2.4" />
<line x1="504.19" y1="805.60" x2="504.19" y2="812.10" stroke="#1a1a1a" stroke-width="2.4" />
<line x1="520.83" y1="805.60" x2="520.83" y2="814.10" stroke="#1a1a1a" stroke-width="2.4" />
<line x1="537.46" y1="805.60" x2="537.46" y2="812.10" stroke="#1a1a1a" stroke-width="2.4" />
<line x1="554.09" y1="805.60" x2="554.09" y2="812.10" stroke="#1a1a1a" stroke-width="2.4" />
<line x1="570.72" y1="805.60" x2="570.72" y2="812.10" stroke="#1a1a1a" stroke-width="2.4" />
<line x1="587.36" y1="805.60" x2="587.36" y2="812.10" stroke="#1a1a1a" stroke-width="2.4" />
<line x1="603.99" y1="805.60" x2="603.99" y2="814.10" stroke="#1a1a1a" stroke-width="2.4" />
<g clip-path="url(#cC)">
<path d="M103.0 522.0 C103.6 525.6 103.8 533.7 105.0 534.0 C106.2 534.3 105.8 522.7 107.0 523.0 C108.2 523.3 107.8 534.4 109.0 535.0 C110.2 535.6 109.8 525.6 111.0 525.0 C112.2 524.4 111.5 532.4 113.0 533.0 C114.5 533.6 114.2 527.6 116.0 527.0 C117.8 526.4 117.5 531.0 119.0 531.0 C120.5 531.0 119.5 525.8 121.0 527.0 C122.5 528.2 122.2 533.5 124.0 535.0 C125.8 536.5 125.2 534.1 127.0 532.0 C128.8 529.9 128.2 527.4 130.0 528.0 C131.8 528.6 131.2 533.4 133.0 534.0 C134.8 534.6 134.2 530.0 136.0 530.0 C137.8 530.0 136.9 532.2 139.0 534.0 C141.1 535.8 140.3 534.8 143.0 536.0 C145.7 537.2 145.3 537.1 148.0 538.0 C150.7 538.9 149.3 540.5 152.0 539.0 C154.7 537.5 154.0 536.3 157.0 533.0 C160.0 529.7 159.2 530.4 162.0 528.0 C164.8 525.6 164.1 524.4 166.5 525.0 C168.9 525.6 167.8 527.0 170.0 530.0 C172.2 533.0 171.6 533.5 174.0 535.0 C176.4 536.5 175.3 535.9 178.0 535.0 C180.7 534.1 176.4 532.9 183.0 532.0 C189.6 531.1 191.0 532.0 200.0 532.0 C209.0 532.0 207.0 531.1 213.0 532.0 C219.0 532.9 216.1 533.6 220.0 535.0 C223.9 536.4 222.4 535.0 226.0 536.5 C229.6 538.0 227.8 539.1 232.0 540.0 C236.2 540.9 234.6 539.4 240.0 539.5 C245.4 539.6 244.6 540.6 250.0 540.5 C255.4 540.4 254.4 538.9 258.0 539.0 C261.6 539.1 259.6 541.0 262.0 541.0 C264.4 541.0 263.6 539.0 266.0 539.0 C268.4 539.0 267.3 540.9 270.0 541.0 C272.7 541.1 272.0 539.2 275.0 539.5 C278.0 539.8 277.0 541.2 280.0 542.0 C283.0 542.8 280.5 541.1 285.0 542.0 C289.5 542.9 289.0 542.6 295.0 545.0 C301.0 547.4 299.0 546.1 305.0 550.0 C311.0 553.9 309.0 553.0 315.0 558.0 C321.0 563.0 319.0 560.3 325.0 566.8 C331.0 573.3 329.0 570.9 335.0 579.7 C341.0 588.5 339.0 587.2 345.0 596.0 C351.0 604.8 349.7 601.8 355.0 609.0 C360.3 616.2 356.9 609.9 362.6 620.0 C368.3 630.1 367.9 625.6 374.0 642.6 C380.1 659.6 378.6 656.3 383.0 676.5 C387.4 696.7 385.6 689.8 388.6 710.0 C391.6 730.2 390.3 726.9 393.0 744.0 C395.7 761.1 393.9 754.7 397.6 767.0 C401.4 779.3 399.1 777.2 405.5 785.0 C411.9 792.8 408.1 789.0 419.0 793.0 C429.9 797.0 424.7 795.8 441.7 798.5 C458.7 801.2 446.1 800.5 475.6 802.0 C505.1 803.5 500.9 802.9 540.0 803.5 C579.1 804.1 586.2 803.9 606.0 804.0" fill="none" stroke="#ec2a8e" stroke-width="10.5" stroke-linejoin="round" stroke-linecap="round" />
</g>
<text x="115.00" y="496.50" font-size="37" font-weight="bold" fill="#111">C</text>
<text x="91.50" y="513.50" font-size="26.5" text-anchor="end">30.0</text>
<text x="91.50" y="612.70" font-size="26.5" text-anchor="end">20.0</text>
<text x="91.50" y="711.90" font-size="26.5" text-anchor="end">10.0</text>
<text x="91.50" y="811.10" font-size="26.5" text-anchor="end">0.0</text>
<text x="106.70" y="837.50" font-size="26.5" text-anchor="middle">-5.0</text>
<text x="182.70" y="837.50" font-size="26.5" text-anchor="middle">-4.5</text>
<text x="268.00" y="837.50" font-size="26.5" text-anchor="middle">-4.0</text>
<text x="352.30" y="837.50" font-size="26.5" text-anchor="middle">-3.5</text>
<text x="434.30" y="837.50" font-size="26.5" text-anchor="middle">-3.0</text>
<text x="518.50" y="837.50" font-size="26.5" text-anchor="middle">-2.5</text>
<text x="601.70" y="837.50" font-size="26.5" text-anchor="middle">-2.0</text>
<text x="266.50" y="867.60" font-size="29.5" font-weight="bold" textLength="194.50" lengthAdjust="spacingAndGlyphs"><tspan font-style="italic">E</tspan> (V vs. Ag<tspan dy="-10.6" font-size="14.8">+</tspan><tspan dy="10.6">/Ag)</tspan></text>
<text transform="translate(43.20,743.50) rotate(-90)" x="0" y="0" font-size="31.5" font-weight="bold" textLength="225.00" lengthAdjust="spacingAndGlyphs">d<tspan font-style="italic">J</tspan>/d<tspan font-style="italic">E</tspan>, mA/Vcm<tspan dy="-12.6" font-size="15.8">2</tspan></text>
<text x="390.00" y="609.00" font-size="27" textLength="159.30" lengthAdjust="spacingAndGlyphs">MeNBu<tspan dy="8.1" font-size="16.2">3</tspan><tspan dy="-8.1"> TFSI</tspan></text>
<text x="390.00" y="643.30" font-size="27" textLength="162.60" lengthAdjust="spacingAndGlyphs">300 mM in PC</text>
<rect x="745.50" y="460.95" width="511.80" height="347.75" fill="none" stroke="#1a1a1a" stroke-width="3"/>
<line x1="737.50" y1="808.70" x2="745.50" y2="808.70" stroke="#1a1a1a" stroke-width="2.6" />
<line x1="739.50" y1="773.93" x2="745.50" y2="773.93" stroke="#1a1a1a" stroke-width="2.6" />
<line x1="737.50" y1="739.15" x2="745.50" y2="739.15" stroke="#1a1a1a" stroke-width="2.6" />
<line x1="739.50" y1="704.38" x2="745.50" y2="704.38" stroke="#1a1a1a" stroke-width="2.6" />
<line x1="737.50" y1="669.60" x2="745.50" y2="669.60" stroke="#1a1a1a" stroke-width="2.6" />
<line x1="739.50" y1="634.83" x2="745.50" y2="634.83" stroke="#1a1a1a" stroke-width="2.6" />
<line x1="737.50" y1="600.05" x2="745.50" y2="600.05" stroke="#1a1a1a" stroke-width="2.6" />
<line x1="739.50" y1="565.28" x2="745.50" y2="565.28" stroke="#1a1a1a" stroke-width="2.6" />
<line x1="737.50" y1="530.50" x2="745.50" y2="530.50" stroke="#1a1a1a" stroke-width="2.6" />
<line x1="739.50" y1="495.73" x2="745.50" y2="495.73" stroke="#1a1a1a" stroke-width="2.6" />
<line x1="737.50" y1="460.95" x2="745.50" y2="460.95" stroke="#1a1a1a" stroke-width="2.6" />
<line x1="745.50" y1="808.70" x2="745.50" y2="817.20" stroke="#1a1a1a" stroke-width="2.4" />
<line x1="762.56" y1="808.70" x2="762.56" y2="815.20" stroke="#1a1a1a" stroke-width="2.4" />
<line x1="779.62" y1="808.70" x2="779.62" y2="815.20" stroke="#1a1a1a" stroke-width="2.4" />
<line x1="796.68" y1="808.70" x2="796.68" y2="815.20" stroke="#1a1a1a" stroke-width="2.4" />
<line x1="813.74" y1="808.70" x2="813.74" y2="815.20" stroke="#1a1a1a" stroke-width="2.4" />
<line x1="830.80" y1="808.70" x2="830.80" y2="817.20" stroke="#1a1a1a" stroke-width="2.4" />
<line x1="847.86" y1="808.70" x2="847.86" y2="815.20" stroke="#1a1a1a" stroke-width="2.4" />
<line x1="864.92" y1="808.70" x2="864.92" y2="815.20" stroke="#1a1a1a" stroke-width="2.4" />
<line x1="881.98" y1="808.70" x2="881.98" y2="815.20" stroke="#1a1a1a" stroke-width="2.4" />
<line x1="899.04" y1="808.70" x2="899.04" y2="815.20" stroke="#1a1a1a" stroke-width="2.4" />
<line x1="916.10" y1="808.70" x2="916.10" y2="817.20" stroke="#1a1a1a" stroke-width="2.4" />
<line x1="933.16" y1="808.70" x2="933.16" y2="815.20" stroke="#1a1a1a" stroke-width="2.4" />
<line x1="950.22" y1="808.70" x2="950.22" y2="815.20" stroke="#1a1a1a" stroke-width="2.4" />
<line x1="967.28" y1="808.70" x2="967.28" y2="815.20" stroke="#1a1a1a" stroke-width="2.4" />
<line x1="984.34" y1="808.70" x2="984.34" y2="815.20" stroke="#1a1a1a" stroke-width="2.4" />
<line x1="1001.40" y1="808.70" x2="1001.40" y2="817.20" stroke="#1a1a1a" stroke-width="2.4" />
<line x1="1018.46" y1="808.70" x2="1018.46" y2="815.20" stroke="#1a1a1a" stroke-width="2.4" />
<line x1="1035.52" y1="808.70" x2="1035.52" y2="815.20" stroke="#1a1a1a" stroke-width="2.4" />
<line x1="1052.58" y1="808.70" x2="1052.58" y2="815.20" stroke="#1a1a1a" stroke-width="2.4" />
<line x1="1069.64" y1="808.70" x2="1069.64" y2="815.20" stroke="#1a1a1a" stroke-width="2.4" />
<line x1="1086.70" y1="808.70" x2="1086.70" y2="817.20" stroke="#1a1a1a" stroke-width="2.4" />
<line x1="1103.76" y1="808.70" x2="1103.76" y2="815.20" stroke="#1a1a1a" stroke-width="2.4" />
<line x1="1120.82" y1="808.70" x2="1120.82" y2="815.20" stroke="#1a1a1a" stroke-width="2.4" />
<line x1="1137.88" y1="808.70" x2="1137.88" y2="815.20" stroke="#1a1a1a" stroke-width="2.4" />
<line x1="1154.94" y1="808.70" x2="1154.94" y2="815.20" stroke="#1a1a1a" stroke-width="2.4" />
<line x1="1172.00" y1="808.70" x2="1172.00" y2="817.20" stroke="#1a1a1a" stroke-width="2.4" />
<line x1="1189.06" y1="808.70" x2="1189.06" y2="815.20" stroke="#1a1a1a" stroke-width="2.4" />
<line x1="1206.12" y1="808.70" x2="1206.12" y2="815.20" stroke="#1a1a1a" stroke-width="2.4" />
<line x1="1223.18" y1="808.70" x2="1223.18" y2="815.20" stroke="#1a1a1a" stroke-width="2.4" />
<line x1="1240.24" y1="808.70" x2="1240.24" y2="815.20" stroke="#1a1a1a" stroke-width="2.4" />
<line x1="1257.30" y1="808.70" x2="1257.30" y2="817.20" stroke="#1a1a1a" stroke-width="2.4" />
<g clip-path="url(#cD)">
<path d="M744.0 530.0 C744.6 533.0 744.8 540.3 746.0 540.0 C747.2 539.7 746.5 529.6 748.0 529.0 C749.5 528.4 749.5 537.7 751.0 538.0 C752.5 538.3 751.5 530.3 753.0 530.0 C754.5 529.7 754.2 537.3 756.0 537.0 C757.8 536.7 757.2 528.7 759.0 529.0 C760.8 529.3 760.2 537.4 762.0 538.0 C763.8 538.6 763.2 530.4 765.0 531.0 C766.8 531.6 766.2 539.4 768.0 540.0 C769.8 540.6 769.5 531.5 771.0 533.0 C772.5 534.5 771.5 540.6 773.0 545.0 C774.5 549.4 774.5 549.9 776.0 547.5 C777.5 545.1 776.5 541.6 778.0 537.0 C779.5 532.4 779.2 532.0 781.0 532.0 C782.8 532.0 782.2 536.7 784.0 537.0 C785.8 537.3 785.2 532.4 787.0 533.0 C788.8 533.6 787.9 538.1 790.0 539.0 C792.1 539.9 791.9 535.1 794.0 536.0 C796.1 536.9 795.2 541.4 797.0 542.0 C798.8 542.6 797.9 537.1 800.0 538.0 C802.1 538.9 801.6 543.5 804.0 545.0 C806.4 546.5 805.6 541.8 808.0 543.0 C810.4 544.2 809.9 547.8 812.0 549.0 C814.1 550.2 812.9 546.1 815.0 547.0 C817.1 547.9 816.9 551.4 819.0 552.0 C821.1 552.6 819.9 548.4 822.0 549.0 C824.1 549.6 823.6 553.1 826.0 554.0 C828.4 554.9 827.6 551.1 830.0 552.0 C832.4 552.9 831.6 556.4 834.0 557.0 C836.4 557.6 835.6 553.4 838.0 554.0 C840.4 554.6 839.6 558.4 842.0 559.0 C844.4 559.6 843.6 556.0 846.0 556.0 C848.4 556.0 847.9 556.9 850.0 559.0 C852.1 561.1 851.2 563.3 853.0 563.0 C854.8 562.7 854.2 558.3 856.0 558.0 C857.8 557.7 857.2 562.6 859.0 562.0 C860.8 561.4 859.9 557.5 862.0 556.0 C864.1 554.5 863.6 558.2 866.0 557.0 C868.4 555.8 867.9 554.7 870.0 552.0 C872.1 549.3 871.2 550.7 873.0 548.0 C874.8 545.3 873.9 543.6 876.0 543.0 C878.1 542.4 877.6 546.9 880.0 546.0 C882.4 545.1 881.6 541.5 884.0 540.0 C886.4 538.5 885.6 542.2 888.0 541.0 C890.4 539.8 889.6 536.9 892.0 536.0 C894.4 535.1 893.6 538.9 896.0 538.0 C898.4 537.1 897.9 533.6 900.0 533.0 C902.1 532.4 901.2 536.3 903.0 536.0 C904.8 535.7 904.2 531.4 906.0 532.0 C907.8 532.6 906.9 536.8 909.0 538.0 C911.1 539.2 910.6 535.1 913.0 536.0 C915.4 536.9 914.6 539.8 917.0 541.0 C919.4 542.2 918.6 539.4 921.0 540.0 C923.4 540.6 922.6 542.1 925.0 543.0 C927.4 543.9 926.6 542.1 929.0 543.0 C931.4 543.9 930.6 544.2 933.0 546.0 C935.4 547.8 934.6 547.2 937.0 549.0 C939.4 550.8 938.6 549.9 941.0 552.0 C943.4 554.1 942.6 554.5 945.0 556.0 C947.4 557.5 946.7 555.2 949.0 557.0 C951.3 558.8 950.8 559.3 952.6 562.0 C954.4 564.7 953.4 563.6 955.0 566.0 C956.6 568.4 956.5 566.7 958.0 570.0 C959.5 573.3 958.8 576.4 960.0 577.0 C961.2 577.6 960.5 574.4 962.0 572.0 C963.5 569.6 963.2 567.8 965.0 569.0 C966.8 570.2 966.0 574.3 968.0 576.0 C970.0 577.7 969.5 573.0 971.6 574.8 C973.7 576.6 973.1 578.6 975.0 582.0 C976.9 585.4 976.2 583.9 978.0 586.0 C979.8 588.1 978.9 585.7 981.0 589.0 C983.1 592.3 982.9 593.1 985.0 597.0 C987.1 600.9 985.9 598.2 988.0 602.0 C990.1 605.8 989.9 604.8 992.0 609.6 C994.1 614.4 993.2 613.7 995.0 618.0 C996.8 622.3 996.0 619.9 998.0 624.0 C1000.0 628.1 999.9 626.3 1001.7 631.7 C1003.5 637.1 1002.1 635.4 1004.0 642.0 C1005.9 648.6 1005.6 646.9 1008.0 653.8 C1010.4 660.7 1009.6 657.4 1012.0 665.0 C1014.4 672.6 1013.9 671.5 1016.0 679.0 C1018.1 686.5 1016.7 682.4 1019.0 690.0 C1021.3 697.6 1021.4 697.9 1023.8 704.5 C1026.2 711.1 1025.1 708.0 1027.0 712.0 C1028.9 716.0 1028.2 713.6 1030.0 718.0 C1031.8 722.4 1031.2 720.6 1033.0 726.6 C1034.8 732.6 1034.0 731.4 1036.0 738.0 C1038.0 744.6 1037.2 743.0 1039.6 748.7 C1042.0 754.4 1041.2 752.3 1044.0 757.0 C1046.8 761.7 1046.3 759.7 1049.0 764.5 C1051.7 769.3 1050.1 767.3 1053.0 773.0 C1055.9 778.7 1055.6 778.4 1058.6 783.5 C1061.6 788.6 1059.7 786.2 1063.0 790.0 C1066.3 793.8 1065.2 793.1 1069.7 796.0 C1074.2 798.9 1072.3 798.0 1078.0 799.5 C1083.7 801.0 1082.0 800.7 1088.6 801.0 C1095.2 801.3 1093.3 801.0 1100.0 800.5 C1106.7 800.0 1105.4 800.5 1110.8 799.3 C1116.2 798.1 1114.2 797.8 1118.0 796.5 C1121.8 795.2 1120.4 794.5 1123.4 795.0 C1126.4 795.5 1125.1 795.8 1128.0 798.0 C1130.9 800.2 1127.9 800.7 1133.0 802.5 C1138.1 804.3 1136.5 803.2 1145.0 804.0 C1153.5 804.8 1149.4 804.4 1161.4 805.0 C1173.4 805.6 1170.8 805.3 1185.0 806.0 C1199.2 806.7 1196.8 806.6 1208.8 807.2 C1220.8 807.8 1215.5 807.5 1225.0 808.0 C1234.5 808.5 1233.5 809.4 1240.4 808.8 C1247.3 808.2 1243.9 808.3 1248.0 806.0 C1252.1 803.7 1251.0 803.1 1254.0 801.0 C1257.0 798.9 1256.8 799.6 1258.0 799.0" fill="none" stroke="#bc8b59" stroke-width="11.5" stroke-linejoin="round" stroke-linecap="round" />
</g>
<text x="757.00" y="498.50" font-size="37" font-weight="bold" fill="#111">D</text>
<text x="730.00" y="469.65" font-size="27.5" text-anchor="end">2.5</text>
<text x="730.00" y="539.20" font-size="27.5" text-anchor="end">2.0</text>
<text x="730.00" y="608.75" font-size="27.5" text-anchor="end">1.5</text>
<text x="730.00" y="678.30" font-size="27.5" text-anchor="end">1.0</text>
<text x="730.00" y="747.85" font-size="27.5" text-anchor="end">0.5</text>
<text x="730.00" y="817.40" font-size="27.5" text-anchor="end">0.0</text>
<text x="753.00" y="846.00" font-size="26.5" text-anchor="middle">-5.0</text>
<text x="828.90" y="846.00" font-size="26.5" text-anchor="middle">-4.5</text>
<text x="914.20" y="846.00" font-size="26.5" text-anchor="middle">-4.0</text>
<text x="998.40" y="846.00" font-size="26.5" text-anchor="middle">-3.5</text>
<text x="1081.50" y="846.00" font-size="26.5" text-anchor="middle">-3.0</text>
<text x="1164.60" y="846.00" font-size="26.5" text-anchor="middle">-2.5</text>
<text x="1247.80" y="846.00" font-size="26.5" text-anchor="middle">-2.0</text>
<text x="906.30" y="876.20" font-size="29.5" font-weight="bold" textLength="194.00" lengthAdjust="spacingAndGlyphs"><tspan font-style="italic">E</tspan> (V vs. Ag<tspan dy="-10.6" font-size="14.8">+</tspan><tspan dy="10.6">/Ag)</tspan></text>
<text transform="translate(692.00,743.50) rotate(-90)" x="0" y="0" font-size="31.5" font-weight="bold" textLength="225.00" lengthAdjust="spacingAndGlyphs">d<tspan font-style="italic">J</tspan>/d<tspan font-style="italic">E</tspan>, mA/Vcm<tspan dy="-12.6" font-size="15.8">2</tspan></text>
<text x="1020.60" y="554.60" font-size="27" textLength="161.40" lengthAdjust="spacingAndGlyphs">MeNBu<tspan dy="8.1" font-size="16.2">3</tspan><tspan dy="-8.1"> TFSI</tspan></text>
<text x="1028.60" y="589.30" font-size="27" textLength="135.80" lengthAdjust="spacingAndGlyphs">Ionic Liquid</text>
</svg>
</body></html>
